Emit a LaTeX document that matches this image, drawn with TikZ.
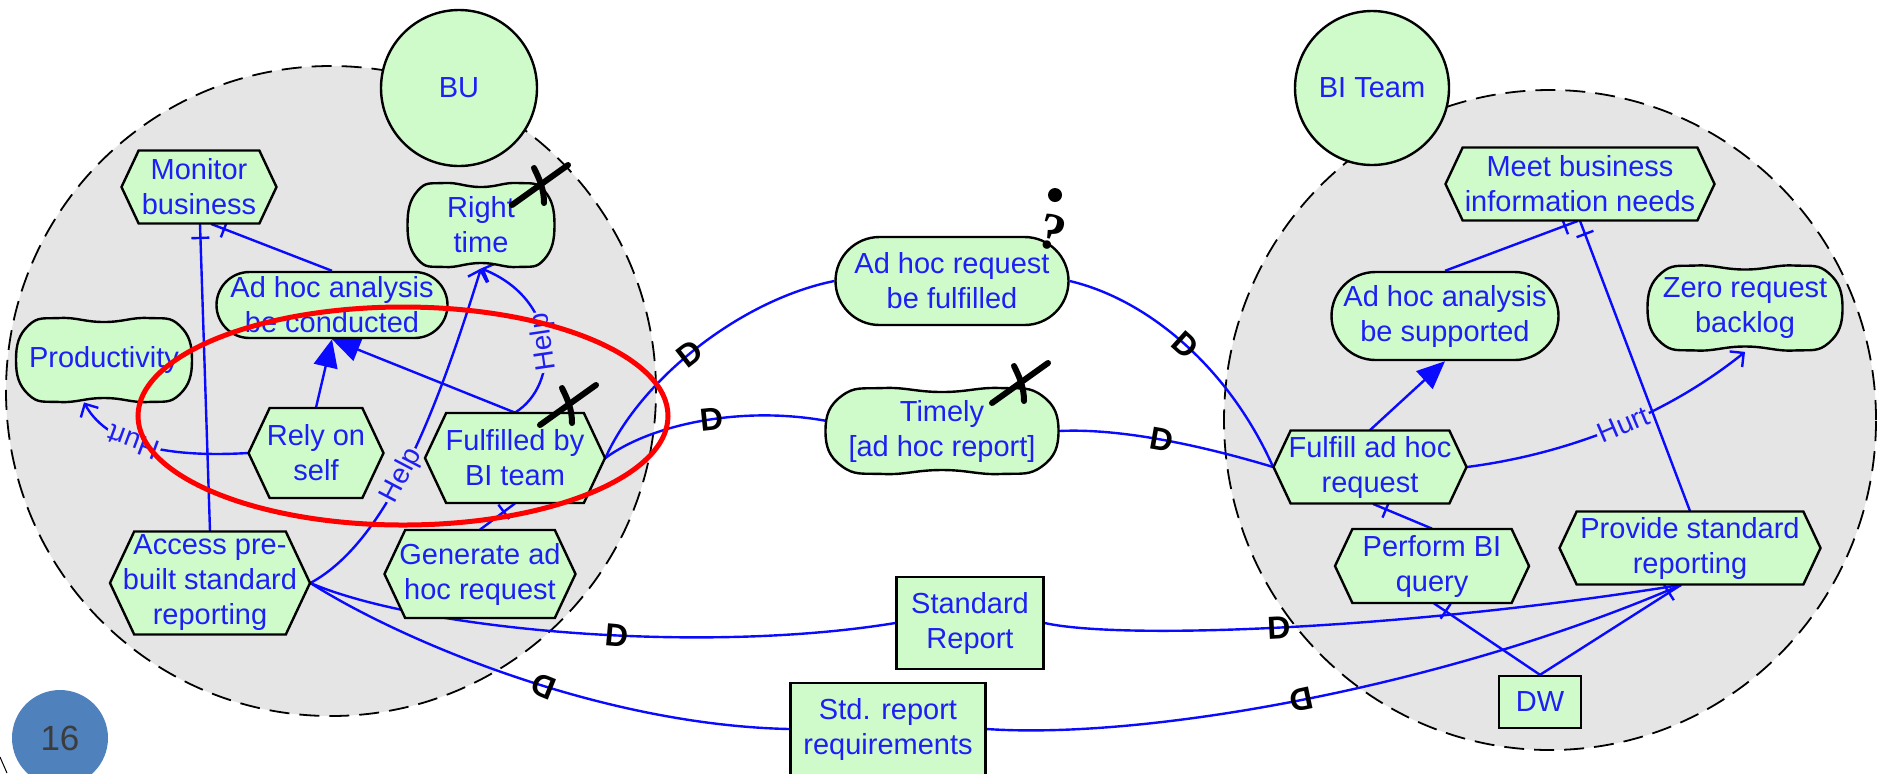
\documentclass[tikz,border=0pt]{standalone}
\usepackage{fontspec}
\setmainfont{Liberation Sans}
\newfontfamily\qfont{Liberation Serif}
\usetikzlibrary{arrows.meta,calc,decorations.markings}

\definecolor{goalfill}{HTML}{CFFBCA}
\definecolor{actorarea}{HTML}{E5E5E5}
\definecolor{inkblue}{HTML}{1E1EF5}
\definecolor{linkblue}{HTML}{0A0AFF}
\definecolor{slideblue}{HTML}{4F81BD}
\definecolor{slidetext}{HTML}{3C3C3C}

\pgfdeclarelayer{areas}
\pgfdeclarelayer{links}
\pgfdeclarelayer{front}
\pgfsetlayers{areas,links,main,front}

\tikzset{
  elem/.style={draw=black, line width=1.2pt, fill=goalfill},
  txt/.style={text=inkblue, font=\fontsize{14.5}{17.5}\selectfont, align=center, inner sep=0pt},
  link/.style={draw=linkblue, line width=1.2pt},
  meansend/.style={link, -{Triangle[length=14pt,width=12pt]}},
  contrib/.style={link, -{Straight Barb[length=5pt,width=10pt]}},
  decomp/.style={link, postaction={decorate, decoration={markings,
      mark=at position -7pt with {\draw[linkblue, line width=1.2pt] (0,-4.5pt) -- (0,4.5pt);}}}},
  dlabel/.style={font=\bfseries\fontsize{16}{16}\selectfont, text=black, inner sep=0pt},
  clabel/.style={text=inkblue, font=\fontsize{14}{14}\selectfont, fill=actorarea, inner sep=0.8pt},
  boundary/.style={draw=black, line width=0.9pt, dash pattern=on 10pt off 5pt, fill=actorarea},
  denied/.pic={
    \draw[black, line width=3pt, line cap=round] (-28,20) -- (28,-20);
    \draw[black, line width=3pt, line cap=round] (-6,-17) .. controls (0,-5) and (4,5) .. (4,18);
  },
}

% task: hexagon with pointed ends (name, cx, cy, width, height, text)
\newcommand{\hexgoal}[6]{%
  \path[elem] ({#2-#4/2},#3) -- ({#2-#4/2+0.47*#5/2},{#3-#5/2})
    -- ({#2+#4/2-0.47*#5/2},{#3-#5/2}) -- ({#2+#4/2},#3)
    -- ({#2+#4/2-0.47*#5/2},{#3+#5/2}) -- ({#2-#4/2+0.47*#5/2},{#3+#5/2}) -- cycle;
  \node[txt, minimum width={#4*0.5pt}, minimum height={#5*0.5pt}] (#1) at (#2,#3) {#6};
}
% softgoal: pinched blob (name, cx, cy, width, height, text)
\newcommand{\softgoal}[6]{%
  \path[elem] plot[smooth cycle, tension=0.8] coordinates {
    ({#2-0.25*#4},{#3-#5/2+1}) (#2,{#3-#5/2+5}) ({#2+0.25*#4},{#3-#5/2+1})
    ({#2+#4/2-0.07*#4},{#3-0.4*#5}) ({#2+#4/2},#3) ({#2+#4/2-0.07*#4},{#3+0.4*#5})
    ({#2+0.25*#4},{#3+#5/2-1}) (#2,{#3+#5/2-5}) ({#2-0.25*#4},{#3+#5/2-1})
    ({#2-#4/2+0.07*#4},{#3+0.4*#5}) ({#2-#4/2},#3) ({#2-#4/2+0.07*#4},{#3-0.4*#5})
  };
  \node[txt, minimum width={#4*0.5pt}, minimum height={#5*0.5pt}] (#1) at (#2,#3) {#6};
}

\begin{document}
\begin{tikzpicture}[x=0.5pt, y=-0.5pt]
\useasboundingbox (0,0) rectangle (1877,773);
\clip (0,0) rectangle (1877,773);

\begin{pgfonlayer}{areas}
  \fill[white] (0,0) rectangle (1877,773);
  \path[boundary] (331,391) ellipse [x radius=162.5pt, y radius=162.5pt];
  \path[boundary] (1550,420) ellipse [x radius=163pt, y radius=165pt];
\end{pgfonlayer}

% actors
\node[elem, txt, circle, minimum size=78pt] (bu) at (459,88) {BU};
\node[elem, txt, circle, minimum size=77pt] (biteam) at (1372,88) {BI Team};

% BU elements
\hexgoal{monitor}{199}{187}{155}{73}{Monitor\\business}
\softgoal{righttime}{481}{225}{147}{86}{Right\\time}
\node[elem, txt, rounded corners=16.5pt, minimum width=115.5pt, minimum height=33pt]
  (ahconducted) at (332,305) {Ad hoc analysis\\be conducted};
\softgoal{productivity}{104}{360}{176}{86}{Productivity}
\hexgoal{relyself}{316}{453}{135}{90}{Rely on\\self}
\hexgoal{fulfilledbi}{515}{458}{180}{90}{Fulfilled by\\BI team}
\hexgoal{accessstd}{210}{583}{200}{103}{Access pre-\\built standard\\reporting}
\hexgoal{genreq}{480}{574}{191}{88}{Generate ad\\hoc request}

% dependums
\node[elem, txt, rounded corners=22pt, minimum width=116.5pt, minimum height=44pt]
  (ahfulfilled) at (952,281) {Ad hoc request\\be fulfilled};
\softgoal{timely}{942}{431}{233}{88}{Timely\\{[ad hoc report]}}
\node[elem, txt, minimum width=73.5pt, minimum height=46pt] (stdreport) at (970,623) {Standard\\Report};
\node[elem, txt, minimum width=97.5pt, minimum height=46pt] (stdreq) at (888,729) {Std. report\\requirements};

% BI Team elements
\hexgoal{meetneeds}{1580}{184}{269}{73}{Meet business\\information needs}
\node[elem, txt, rounded corners=22pt, minimum width=113.5pt, minimum height=44pt]
  (ahsupported) at (1445,316) {Ad hoc analysis\\be supported};
\softgoal{zerobacklog}{1745}{308}{195}{87}{Zero request\\backlog}
\hexgoal{fulfillreq}{1370}{467}{193}{73}{Fulfill ad hoc\\request}
\hexgoal{performbi}{1432}{566}{194}{74}{Perform BI\\query}
\hexgoal{providestd}{1690}{548}{261}{73}{Provide standard\\reporting}
\node[elem, txt, minimum width=41pt, minimum height=26pt] (dw) at (1540,702) {DW};

\begin{pgfonlayer}{links}
  % inside BU
  \draw[decomp] (ahconducted.north) -- ($(monitor.south)+(12,0)$);
  \draw[decomp] (accessstd.north) -- ($(monitor.south)+(1,0)$);
  \draw[meansend] (relyself.north) -- (ahconducted.south);
  \draw[meansend] (fulfilledbi.north) -- (ahconducted.south);
  \draw[contrib] (relyself.west) .. controls (180,457) and (110,450) .. ($(productivity.south)+(-20,-1)$)
    node[clabel, pos=0.6, sloped, allow upside down] {Hurt};
  \draw[contrib] (accessstd.east) .. controls (390,540) and (440,400) .. (righttime.south)
    node[clabel, pos=0.45, sloped] {Help};
  \draw[contrib] (fulfilledbi.north) .. controls (560,385) and (560,300) .. (righttime.south)
    node[clabel, pos=0.5, sloped, allow upside down] {Help};
  \draw[decomp] (genreq.north) -- (fulfilledbi.south);

  % dependencies
  \draw[link] (fulfilledbi.east) .. controls (640,380) and (740,300) .. (ahfulfilled.west)
    node[dlabel, pos=0.47, rotate=38] {D};
  \draw[link] (ahfulfilled.east) .. controls (1150,300) and (1230,370) .. (fulfillreq.west)
    node[dlabel, pos=0.5, rotate=-42] {D};
  \draw[link] (fulfilledbi.east) .. controls (650,425) and (740,405) .. ($(timely.west)+(2,-10)$)
    node[dlabel, pos=0.55, rotate=6] {D};
  \draw[link] (timely.east) .. controls (1120,428) and (1200,445) .. (fulfillreq.west)
    node[dlabel, pos=0.5, rotate=-10] {D};
  \draw[link] (accessstd.east) .. controls (420,630) and (700,655) .. (stdreport.west)
    node[dlabel, pos=0.57, rotate=-5] {D};
  \draw[link] (stdreport.east) .. controls (1120,640) and (1400,630) .. ($(providestd.south)+(-9,0)$)
    node[dlabel, pos=0.49, rotate=3] {D};
  \draw[link] (accessstd.east) .. controls (400,640) and (600,725) .. (stdreq.west)
    node[dlabel, pos=0.56, rotate=158] {D};
  \draw[link] (stdreq.east) .. controls (1150,740) and (1450,685) .. ($(providestd.south)+(-9,0)$)
    node[dlabel, pos=0.49, rotate=192] {D};

  % inside BI Team
  \draw[decomp] (dw.north) -- ($(providestd.south)+(-9,0)$);
  \draw[decomp] (dw.north) -- ($(performbi.south)+(2,0)$);
  \draw[decomp] (performbi.north) -- ($(fulfillreq.south)+(3,0)$);
  \draw[meansend] (fulfillreq.north) -- (ahsupported.south);
  \draw[decomp] (ahsupported.north) -- ($(meetneeds.south)+(-2,0)$);
  \draw[decomp] (providestd.north) -- (meetneeds.south);
  \draw[contrib] (fulfillreq.east) .. controls (1560,455) and (1660,420) .. (zerobacklog.south)
    node[clabel, pos=0.55, sloped] {Hurt};
\end{pgfonlayer}

\begin{pgfonlayer}{front}
  % evaluation marks
  \pic at ($(righttime.center)+(59,-40)$) {denied};
  \pic at ($(fulfilledbi.center)+(53,-53)$) {denied};
  \pic at ($(timely.center)+(78,-48)$) {denied};
  \fill[black] ($(ahfulfilled.center)+(103,-86)$) circle [radius=3.5pt];
  \node[font=\qfont\bfseries\fontsize{26}{26}\selectfont, rotate=-15, inner sep=0pt]
    (unknownmark) at ($(ahfulfilled.center)+(100,-48)$) {?};

  % highlight
  \draw[red, line width=2.5pt] (403,416) ellipse [x radius=132.5pt, y radius=54.5pt];

  % slide number
  \node[circle, fill=slideblue, minimum size=48pt, inner sep=0pt, text=slidetext,
    font=\fontsize{17.5}{17.5}\selectfont] (slidenum) at (60,738) {16};
  \draw[black, line width=0.5pt] (0,757) -- (7,773);
\end{pgfonlayer}
\end{tikzpicture}
\end{document}
